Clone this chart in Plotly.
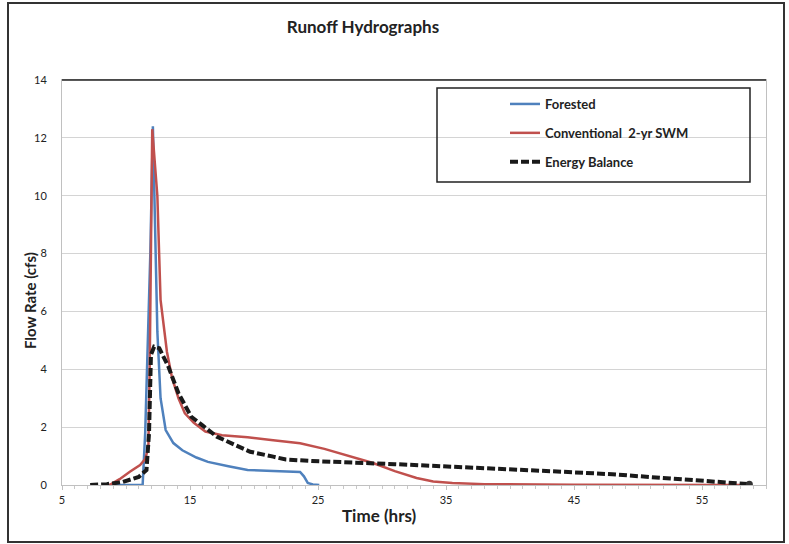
import plotly.graph_objects as go

# ---- data ----
forested_t = [8.7, 11.3, 11.5, 11.9, 12.1, 12.25, 12.45, 12.7, 13.1, 13.7, 14.4, 15.5, 16.4, 18.0, 19.5, 21.5, 23.6, 23.9, 24.2, 24.6, 25.1]
forested_q = [0.0, 0.0, 1.8, 8.0, 12.4, 9.0, 5.3, 3.0, 1.9, 1.45, 1.2, 0.95, 0.8, 0.65, 0.52, 0.48, 0.45, 0.3, 0.07, 0.02, 0.0]

swm_t = [8.7, 9.5, 10.3, 11.1, 11.5, 11.75, 11.85, 12.05, 12.45, 12.7, 13.2, 13.6, 14.1, 14.6, 15.3, 16.2, 17.5, 19.5, 21.5, 23.6, 25.5, 27.3, 29.3, 31.0, 32.7, 34.0, 35.5, 38.0, 45.0, 58.7]
swm_q = [0.0, 0.2, 0.46, 0.69, 0.9, 1.3, 4.0, 12.3, 10.0, 6.4, 4.6, 3.7, 3.0, 2.48, 2.15, 1.85, 1.72, 1.65, 1.55, 1.44, 1.25, 1.03, 0.76, 0.48, 0.24, 0.12, 0.07, 0.03, 0.01, 0.0]

energy_t = [7.2, 8.5, 9.7, 11.0, 11.6, 11.8, 11.95, 12.2, 12.6, 13.3, 14.1, 15.1, 16.0, 17.1, 18.6, 19.7, 21.5, 22.5, 24.5, 27.0, 31.0, 35.5, 40.0, 44.0, 48.0, 52.2, 55.5, 58.7]
energy_q = [0.0, 0.03, 0.1, 0.28, 0.52, 1.8, 4.5, 4.78, 4.73, 4.1, 3.17, 2.36, 2.05, 1.67, 1.37, 1.15, 0.98, 0.88, 0.83, 0.8, 0.72, 0.63, 0.55, 0.46, 0.37, 0.23, 0.13, 0.03]

series_names = ["Forested", "Conventional  2-yr SWM", "Energy Balance"]
y_ticks = [0, 2, 4, 6, 8, 10, 12, 14]
x_ticks = [5, 15, 25, 35, 45, 55]

FONT = "Lato, 'Open Sans', sans-serif"

fig = go.Figure()
fig.add_trace(go.Scatter(x=forested_t, y=forested_q, mode="lines", name=series_names[0],
                         line=dict(color="#4F81BD", width=2.5), legendgroup="a"))
fig.add_trace(go.Scatter(x=swm_t, y=swm_q, mode="lines", name=series_names[1],
                         line=dict(color="#C0504D", width=2.5), legendgroup="b"))
fig.add_trace(go.Scatter(x=energy_t, y=energy_q, mode="lines", name=series_names[2],
                         line=dict(color="#1a1a1a", width=4, dash="8px,3px"), legendgroup="c"))
fig.add_trace(go.Scatter(x=[energy_t[-1]], y=[energy_q[-1]], mode="markers", showlegend=False,
                         marker=dict(color="#333333", size=7), hoverinfo="skip"))

# plot area: left 62, right 766, top 80, bottom 485
PL, PR, PT, PB = 62, 766, 80, 485
W, H = 789, 544
def px(x):
    return (x - PL) / (PR - PL)
def py(y):
    return (PB - y) / (PB - PT)

fig.update_layout(
    width=W, height=H,
    margin=dict(l=PL, r=W - PR, t=PT, b=H - PB),
    paper_bgcolor="white", plot_bgcolor="white",
    font=dict(family=FONT, color="#333333"),
    title=dict(text="<b>Runoff Hydrographs</b>", x=363 / W, xanchor="center",
               y=1 - 27 / H, yanchor="middle", font=dict(size=17, color="#222222", family=FONT)),
    showlegend=True,
    legend=dict(x=px(505), y=py(89), xanchor="left", yanchor="top",
                bgcolor="rgba(0,0,0,0)", borderwidth=0,
                traceorder="grouped", tracegroupgap=9,
                font=dict(size=13, color="#222222", family=FONT, weight="bold")),
    xaxis=dict(range=[5, 60], tickmode="array", tickvals=x_ticks, ticktext=[str(v) for v in x_ticks],
               showgrid=False, zeroline=False, showline=True, linecolor="#c0c0c0", linewidth=1, mirror=True,
               ticks="outside", ticklen=4, tickcolor="#c0c0c0",
               minor=dict(dtick=1, tick0=5, ticks="outside", ticklen=3, tickcolor="#c8c8c8", showgrid=False),
               tickfont=dict(size=11, color="#222222"), ticklabelstandoff=1),
    yaxis=dict(range=[0, 14], tickmode="array", tickvals=y_ticks, ticktext=[str(v) for v in y_ticks],
               showgrid=True, gridcolor="#d4d4d4", gridwidth=1, zeroline=False,
               showline=True, linecolor="#c0c0c0", linewidth=1, mirror=True,
               ticks="", tickfont=dict(size=11, color="#222222"), ticklabelstandoff=12),
)

# axis titles
fig.add_annotation(text="<b>Time (hrs)</b>", xref="paper", yref="paper", x=px(379), y=py(515),
                   xanchor="center", yanchor="middle",
                   showarrow=False, font=dict(size=17, color="#222222", family=FONT))
fig.add_annotation(text="<b>Flow Rate (cfs)</b>", xref="paper", yref="paper", x=px(30), y=py(301),
                   xanchor="center", yanchor="middle",
                   showarrow=False, textangle=-90, font=dict(size=15, color="#222222", family=FONT))

# dark top border of plot area
fig.add_shape(type="line", xref="paper", yref="paper", x0=0, x1=1, y0=1, y1=1,
              line=dict(color="#222222", width=1.5))
# legend box
fig.add_shape(type="rect", xref="paper", yref="paper", x0=px(437), x1=px(750), y0=py(182), y1=py(88),
              line=dict(color="#222222", width=1.5), fillcolor="rgba(0,0,0,0)", layer="above")
# outer chart border
fig.add_shape(type="rect", xref="paper", yref="paper", x0=px(8), x1=px(784), y0=py(542), y1=py(3),
              line=dict(color="#333333", width=2), fillcolor="rgba(0,0,0,0)")

fig.write_html("out.html", config={"displayModeBar": False},
               post_script="document.body.style.margin='0';document.body.style.overflow='hidden';")
